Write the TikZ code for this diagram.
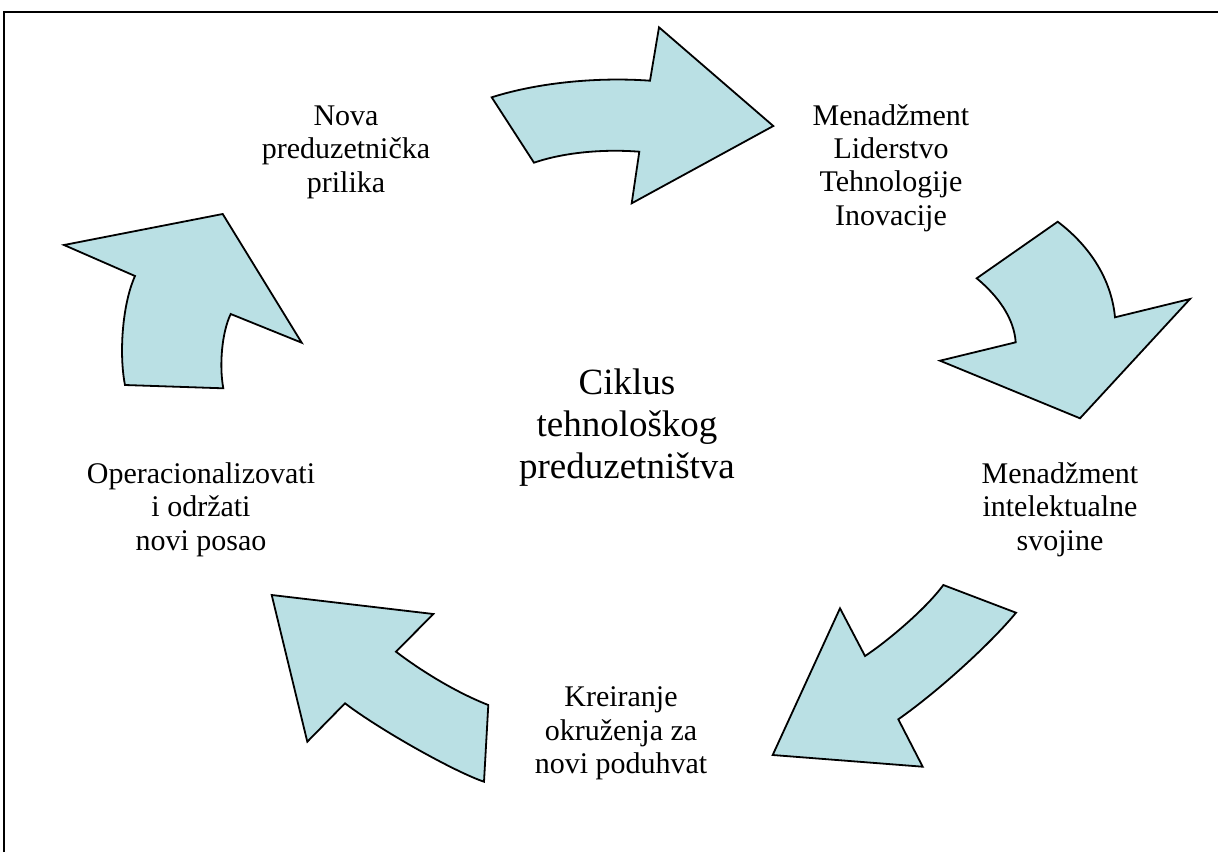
\documentclass[tikz,border=0pt]{standalone}
\usepackage{fontspec}
\setmainfont{Liberation Serif}
\begin{document}
\begin{tikzpicture}[x=1pt,y=-1pt,
  arrowshape/.style={fill=arrowfill,draw=black,line width=1.8pt,line join=miter},
  label/.style={align=center,inner sep=0pt,font=\fontsize{30}{33.4}\selectfont},
  title/.style={align=center,inner sep=0pt,font=\fontsize{37}{42}\selectfont}]
\definecolor{arrowfill}{RGB}{186,224,228}
\useasboundingbox (0,0) rectangle (1218,852);
% frame
\draw[line width=2pt] (3.5,852) -- (3.5,11.5) -- (1218,11.5);

% cycle arrows
\draw[arrowshape] (491.7,97.3) .. controls (540,82) and (600,77) .. (650,80.7)
  -- (659,27.3) -- (773.3,126) -- (631.7,203.3) -- (639.3,151.7)
  .. controls (605,149) and (565,152) .. (534,162.7) -- cycle;
\draw[arrowshape] (1057.7,221.7) -- (976.7,278.3)
  .. controls (998,296) and (1014,318) .. (1015.7,342.3)
  -- (940,360.7) -- (1080,418.3) -- (1190,299) -- (1115,317.3)
  .. controls (1112,285) and (1095,250) .. (1057.7,221.7) -- cycle;
\draw[arrowshape] (943.3,585) -- (1016,612.7)
  .. controls (992,642) and (940,690) .. (898.3,719.3)
  -- (922.7,766.7) -- (772.7,755) -- (840,608.3) -- (865,656)
  .. controls (885,643) and (925,610) .. (943.3,585) -- cycle;
\draw[arrowshape] (271.7,595) -- (433.3,614) -- (396,651.7)
  .. controls (420,670) and (455,692) .. (488.3,705)
  -- (484,781.7) .. controls (455,772) and (380,730) .. (345,703.3)
  -- (307.3,741.7) -- cycle;
\draw[arrowshape] (64,245) -- (222.7,214) -- (301.7,342.7) -- (230.7,314)
  .. controls (222,332) and (219,365) .. (223.3,388.3)
  -- (125,385) .. controls (119,355) and (122,305) .. (135,276) -- cycle;

% labels
\node[label] (prilika) at (346,152.2) {Nova\\preduzetnička\\prilika};
\node[label] (menadzment) at (891,168) {Menadžment\\Liderstvo\\Tehnologije\\Inovacije};
\node[label] (svojina) at (1060,509.7) {Menadžment\\intelektualne\\svojine};
\node[label] (okruzenje) at (621,733.3) {Kreiranje\\okruženja za\\novi poduhvat};
\node[label] (posao) at (201,509.7) {Operacionalizovati\\i održati\\novi posao};
\node[title] (ciklus) at (627,427.3) {Ciklus\\tehnološkog\\preduzetništva};
\end{tikzpicture}
\end{document}
